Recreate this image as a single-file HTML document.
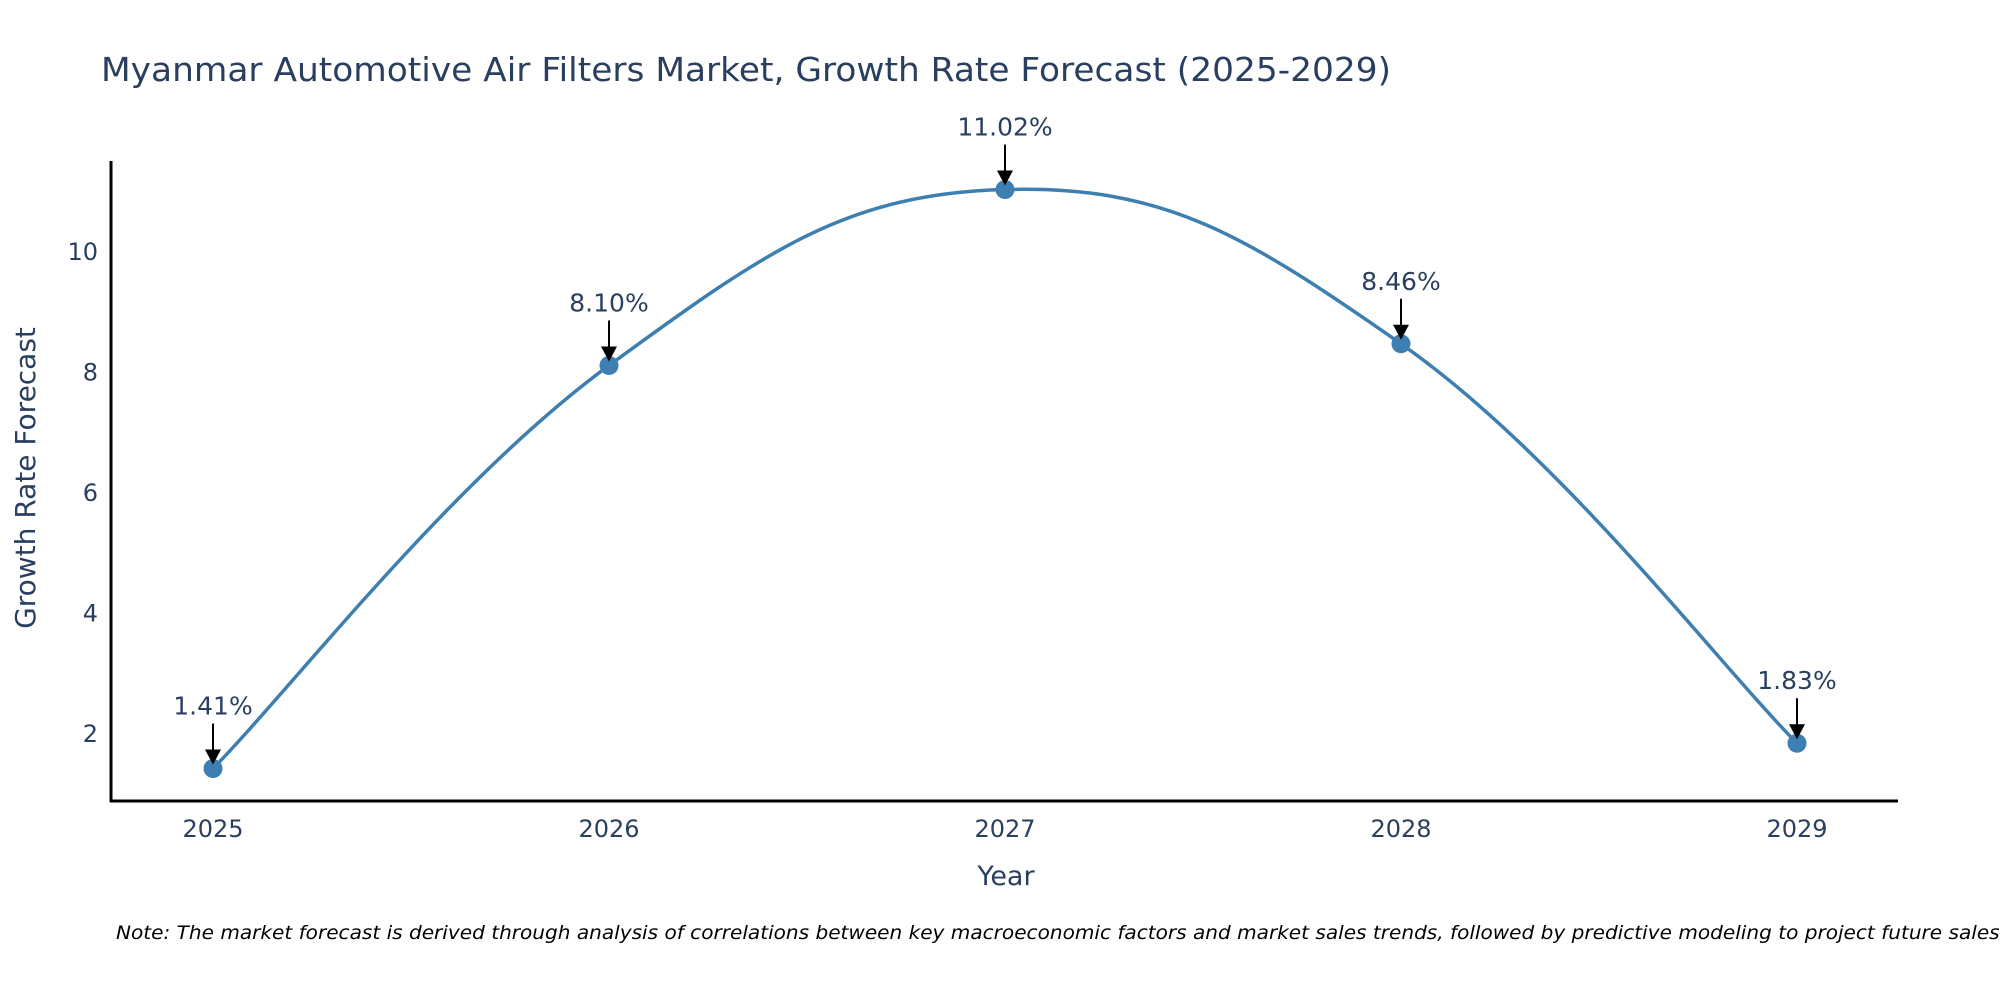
<!DOCTYPE html>
<html><head><meta charset="utf-8"><style>
body{margin:0;background:#fff;}
svg{display:block;font-family:"DejaVu Sans","Liberation Sans",sans-serif;}
</style></head><body>
<svg id="chart" width="2000" height="1000" viewBox="0 0 2000 1000">
<text x="101" y="81" font-size="33" fill="#2a3f5f" textLength="1290" lengthAdjust="spacingAndGlyphs">Myanmar Automotive Air Filters Market, Growth Rate Forecast (2025-2029)</text>
<g id="yticks"></g><g id="xticks"></g>
<line x1="111" y1="161" x2="111" y2="802" stroke="#000" stroke-width="3"/>
<line x1="110" y1="801" x2="1898" y2="801" stroke="#000" stroke-width="3"/>
<path id="line" fill="none" stroke="#3d7fb0" stroke-width="3.5"/>
<g id="marks"></g>
<text x="1006" y="885" font-size="27" fill="#2a3f5f" text-anchor="middle">Year</text>
<text transform="translate(35,478) rotate(-90)" font-size="28" fill="#2a3f5f" text-anchor="middle">Growth Rate Forecast</text>
<text x="116" y="939" font-size="19" font-style="italic" fill="#000" textLength="1890" lengthAdjust="spacingAndGlyphs">Note: The market forecast is derived through analysis of correlations between key macroeconomic factors and market sales trends, followed by predictive modeling to project future sales.</text>
</svg>
<script>
const years=["2025","2026","2027","2028","2029"];
const values=[1.41,8.10,11.02,8.46,1.83];
const labels=["1.41%","8.10%","11.02%","8.46%","1.83%"];
const yTicks=[2,4,6,8,10];
const NS="http://www.w3.org/2000/svg";
function xs(i){return 213+i*396;}
function ys(v){return 733-(v-2)*60.25;}
function mk(t,a,p){const e=document.createElementNS(NS,t);for(const k in a)e.setAttribute(k,a[k]);p.appendChild(e);return e;}
const yt=document.getElementById('yticks'),xt=document.getElementById('xticks'),mg=document.getElementById('marks');
yTicks.forEach(v=>{const t=mk('text',{x:98,y:ys(v)+9,'font-size':24,fill:'#2a3f5f','text-anchor':'end'},yt);t.textContent=v;

});
years.forEach((y,i)=>{const t=mk('text',{x:xs(i),y:837,'font-size':24,fill:'#2a3f5f','text-anchor':'middle'},xt);t.textContent=y;

});
const P=values.map((v,i)=>[xs(i),ys(v)]);
let d='M'+P[0][0]+','+P[0][1];const s=0.2;
for(let i=0;i<P.length-1;i++){const p0=P[Math.max(0,i-1)],p1=P[i],p2=P[i+1],p3=P[Math.min(P.length-1,i+2)];
const c1=[p1[0]+(p2[0]-p0[0])*s,p1[1]+(p2[1]-p0[1])*s],c2=[p2[0]-(p3[0]-p1[0])*s,p2[1]-(p3[1]-p1[1])*s];
d+=` C${c1[0]},${c1[1]} ${c2[0]},${c2[1]} ${p2[0]},${p2[1]}`;}
document.getElementById('line').setAttribute('d',d);
P.forEach((p,i)=>{const c=mk('circle',{cx:p[0],cy:p[1],r:9.5,fill:'#3d7fb0'},mg);


const l=mk('line',{x1:p[0],y1:p[1]-45,x2:p[0],y2:p[1]-14,stroke:'#000','stroke-width':2},mg);


const h=mk('polygon',{points:`${p[0]-8},${p[1]-19} ${p[0]+8},${p[1]-19} ${p[0]},${p[1]-4}`,fill:'#000'},mg);


const t=mk('text',{x:p[0],y:p[1]-54,'font-size':25,fill:'#2a3f5f','text-anchor':'middle'},mg);t.textContent=labels[i];

});
</script>
</body></html>
